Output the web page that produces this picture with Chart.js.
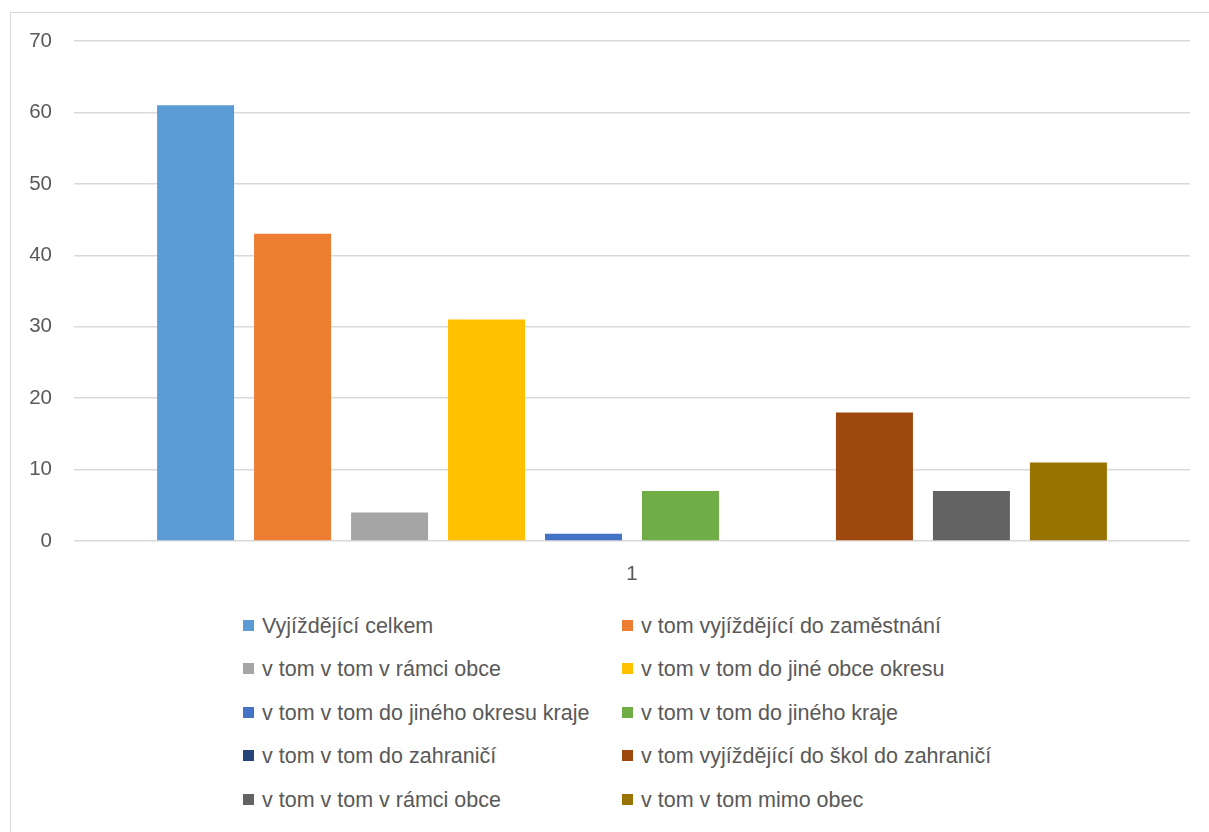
<!DOCTYPE html>
<html>
<head>
<meta charset="utf-8">
<script src="https://cdn.jsdelivr.net/npm/chart.js@4"></script>
<style>
  html, body { margin:0; padding:0; background:#fff; width:1209px; height:832px; overflow:hidden; }
  #frame { position:absolute; left:10px; top:12px; width:1300px; height:900px; border:1px solid #d9d9d9; box-sizing:border-box; }
  #wrap { position:absolute; left:0; top:0; width:1209px; height:600px; }
  #legend { position:absolute; left:0; top:0; font-family:"Liberation Sans", Arial, sans-serif; font-size:21.5px; color:#595959; }
  .item { position:absolute; white-space:nowrap; height:24px; line-height:24px; }
  .box { position:absolute; left:0; top:6px; width:11px; height:11px; }
  .lbl { position:absolute; left:19px; top:0; }
</style>
</head>
<body>
<div id="frame"></div>
<div id="wrap"><canvas id="c"></canvas></div>
<div id="legend"></div>
<script>
const categories = ["1"];
const seriesNames = [
  "Vyjíždějící celkem",
  "v tom vyjíždějící do zaměstnání",
  "v tom v tom v rámci obce",
  "v tom v tom do jiné obce okresu",
  "v tom v tom do jiného okresu kraje",
  "v tom v tom do jiného kraje",
  "v tom v tom do zahraničí",
  "v tom vyjíždějící do škol do zahraničí",
  "v tom v tom v rámci obce",
  "v tom v tom mimo obec"
];
const seriesValues = [61, 43, 4, 31, 1, 7, 0, 18, 7, 11];
const seriesColors = ["#5B9BD5","#ED7D31","#A5A5A5","#FFC000","#4472C4","#70AD47","#264478","#9E480E","#636363","#997300"];
const yTicks = [0, 10, 20, 30, 40, 50, 60, 70];

const datasets = seriesNames.map((n, i) => ({
  label: n,
  data: [seriesValues[i]],
  backgroundColor: seriesColors[i],
  borderWidth: 0,
  categoryPercentage: 0.869,
  barPercentage: 0.794
}));

new Chart(document.getElementById('c'), {
  type: 'bar',
  data: { labels: categories, datasets },
  options: {
    responsive: true,
    maintainAspectRatio: false,
    animation: false,
    layout: { padding: { left: 0, right: 19, top: 41, bottom: 0 } },
    plugins: { legend: { display: false }, tooltip: { enabled: false } },
    scales: {
      x: {
        grid: { display: false, drawTicks: false },
        border: { display: false },
        ticks: { color: '#595959', font: { family: 'Liberation Sans', size: 20.5 }, padding: 21 },
        afterFit: s => { s.height = 59; }
      },
      y: {
        min: 0, max: 70,
        afterBuildTicks: s => { s.ticks = yTicks.map(v => ({ value: v })); },
        grid: { color: '#d9d9d9', lineWidth: 1.5, drawTicks: false },
        border: { display: false },
        ticks: { color: '#595959', font: { family: 'Liberation Sans', size: 20.5 }, padding: 22 },
        afterFit: s => { s.width = 74; }
      }
    }
  }
});

const legend = document.getElementById('legend');
const colX = [243, 622];
const rowY = [626, 669, 713, 756, 800];
seriesNames.forEach((n, i) => {
  const d = document.createElement('div');
  d.className = 'item';
  d.style.left = colX[i % 2] + 'px';
  d.style.top = (rowY[Math.floor(i / 2)] - 12) + 'px';
  d.innerHTML = '<span class="box" style="background:' + seriesColors[i] + '"></span><span class="lbl"></span>';
  d.querySelector('.lbl').textContent = n;
  legend.appendChild(d);
});
</script>
</body>
</html>
